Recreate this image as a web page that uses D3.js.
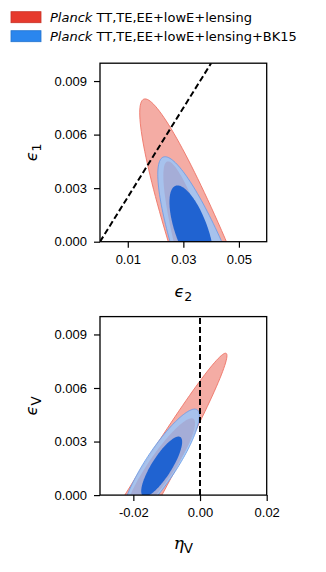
<!DOCTYPE html>
<html>
<head>
<meta charset="utf-8">
<script src="https://cdn.jsdelivr.net/npm/d3@7"></script>
<style>
  body { margin: 0; background: #fff; }
  svg { display: block; font-family: "DejaVu Sans", sans-serif; }
  .tick text { font-size: 13px; fill: #000; }
  .tick line { stroke: #000; stroke-width: 1.2; }
  .domain { display: none; }
</style>
</head>
<body>
<svg width="326" height="572"></svg>
<script>
// legend
var legendNames = ["TT,TE,EE+lowE+lensing", "TT,TE,EE+lowE+lensing+BK15"];
var legendColors = ["#e63a2d", "#2a86ee"];

// contour levels, drawn in this order
var levels = ["Planck 95%", "Planck 68%", "BK15 95%", "BK15 68%"];
var levelFill = ["#f4aca4", "#e8392c", "#96c7fc", "#2063d1"];
var levelOpacity = [1, 1, 0.82, 1];
var levelStroke = ["#ee7466", "none", "#6e9de6", "none"];

// eps1 vs eps2 : centre, spread and correlation of each contour
var e12CenterX = [0.0515, 0.0365, 0.0415, 0.0330];
var e12CenterY = [-0.007, -0.002, -0.003, 0.0006];
var e12SpreadX = [0.0372, 0.0137, 0.0207, 0.0080];
var e12SpreadY = [0.0150, 0.0065, 0.00776, 0.00255];
var e12Rho = [-0.948, -0.876, -0.873, -0.6375];
var e12DashX = [0, 0.04];
var e12DashY = [0, 0.01];
var e12XTicks = [0.01, 0.03, 0.05];
var e12XLabels = ["0.01", "0.03", "0.05"];

// epsV vs etaV
var eVCenterX = [-0.0356, -0.0120, -0.0117, -0.0115];
var eVCenterY = [-0.006, 0.0015, 0.0017, 0.0016];
var eVSpreadX = [0.04368, 0.0105, 0.01151, 0.00614];
var eVSpreadY = [0.01395, 0.0028, 0.00312, 0.00168];
var eVRho = [0.990, 0.90, 0.878, 0.822];
var eVDashX = [0, 0];
var eVDashY = [0, 0.01];
var eVXTicks = [-0.02, 0, 0.02];
var eVXLabels = ["-0.02", "0.00", "0.02"];

var yTicks = [0, 0.003, 0.006, 0.009];
var yLabels = ["0.000", "0.003", "0.006", "0.009"];

var svg = d3.select("svg");
var left = 100, pw = 166.7, ph = 178.5;

function ellipse(cx, cy, sx, sy, rho) {
    var s = Math.sqrt(1 - rho * rho);
    return d3.range(0, 361, 2).map(function (a) {
        var t = a * Math.PI / 180;
        return [cx + sx * Math.cos(t), cy + sy * (rho * Math.cos(t) + s * Math.sin(t))];
    });
}

function drawPanel(o) {
    var x = d3.scaleLinear().domain(o.xDomain).range([left, left + pw]);
    var y = d3.scaleLinear().domain([0, 0.01]).range([o.top + ph, o.top]);
    var g = svg.append("g");

    g.append("clipPath").attr("id", o.id)
        .append("rect").attr("x", left).attr("y", o.top).attr("width", pw).attr("height", ph);

    var line = d3.line().x(function (d) { return x(d[0]); }).y(function (d) { return y(d[1]); });
    var plot = g.append("g").attr("clip-path", "url(#" + o.id + ")");

    levels.forEach(function (lv, i) {
        plot.append("path")
            .attr("d", line(ellipse(o.cx[i], o.cy[i], o.sx[i], o.sy[i], o.rho[i])) + "Z")
            .attr("fill", levelFill[i])
            .attr("fill-opacity", levelOpacity[i])
            .attr("stroke", levelStroke[i])
            .attr("stroke-width", 0.9);
    });

    plot.append("path")
        .attr("d", line(o.dashX.map(function (v, i) { return [v, o.dashY[i]]; })))
        .attr("fill", "none")
        .attr("stroke", "#000")
        .attr("stroke-width", 2)
        .attr("stroke-dasharray", "6,3");

    g.append("g")
        .attr("transform", "translate(0," + (o.top + ph) + ")")
        .call(d3.axisBottom(x).tickValues(o.xTicks)
            .tickFormat(function (d, i) { return o.xLabels[i]; })
            .tickSize(6).tickPadding(7));

    g.append("g")
        .attr("transform", "translate(" + left + ",0)")
        .call(d3.axisLeft(y).tickValues(yTicks)
            .tickFormat(function (d, i) { return yLabels[i]; })
            .tickSize(6).tickPadding(7));

    g.append("rect")
        .attr("x", left).attr("y", o.top).attr("width", pw).attr("height", ph)
        .attr("fill", "none").attr("stroke", "#000").attr("stroke-width", 1.3);

    // axis labels
    var xl = g.append("text")
        .attr("x", left + pw / 2).attr("y", o.top + ph + o.xLabelDy)
        .attr("text-anchor", "middle");
    xl.append("tspan").attr("font-size", o.xSymSize).attr("font-style", "italic")
        .attr("font-family", o.xSymFont).text(o.xSym);
    xl.append("tspan").attr("font-size", o.xSubSize).attr("dy", 4).text(o.xSub);

    var yl = g.append("text")
        .attr("transform", "translate(37," + (o.top + ph / 2) + ") rotate(-90)")
        .attr("text-anchor", "middle");
    yl.append("tspan").attr("font-size", 16).attr("font-style", "italic").text("\u03f5");
    yl.append("tspan").attr("font-size", o.ySubSize).attr("dy", 4).text(o.ySub);
}

drawPanel({
    id: "c1", top: 63.2, xDomain: [0, 0.06],
    cx: e12CenterX, cy: e12CenterY, sx: e12SpreadX, sy: e12SpreadY, rho: e12Rho,
    dashX: e12DashX, dashY: e12DashY, xTicks: e12XTicks, xLabels: e12XLabels,
    xSym: "\u03f5", xSymFont: "DejaVu Sans", xSymSize: 16, xSub: "2", xSubSize: 12.5, xLabelDy: 55,
    ySub: "1", ySubSize: 12.5
});

drawPanel({
    id: "c2", top: 316.6, xDomain: [-0.03, 0.02],
    cx: eVCenterX, cy: eVCenterY, sx: eVSpreadX, sy: eVSpreadY, rho: eVRho,
    dashX: eVDashX, dashY: eVDashY, xTicks: eVXTicks, xLabels: eVXLabels,
    xSym: "\u03b7", xSymFont: "DejaVu Serif", xSymSize: 17, xSub: "V", xSubSize: 13.5, xLabelDy: 54,
    ySub: "V", ySubSize: 13.5
});

// legend
var leg = svg.append("g");
legendNames.forEach(function (name, i) {
    var ly = 11.7 + i * 19;
    leg.append("rect")
        .attr("x", 11).attr("y", ly).attr("width", 30).attr("height", 11)
        .attr("fill", legendColors[i])
        .attr("stroke", d3.color(legendColors[i]).darker(0.4)).attr("stroke-width", 0.8);
    var t = leg.append("text").attr("x", 50).attr("y", ly + 10).attr("font-size", 13);
    t.append("tspan").attr("font-style", "italic").text("Planck");
    t.append("tspan").text(" " + name);
});
</script>
</body>
</html>
